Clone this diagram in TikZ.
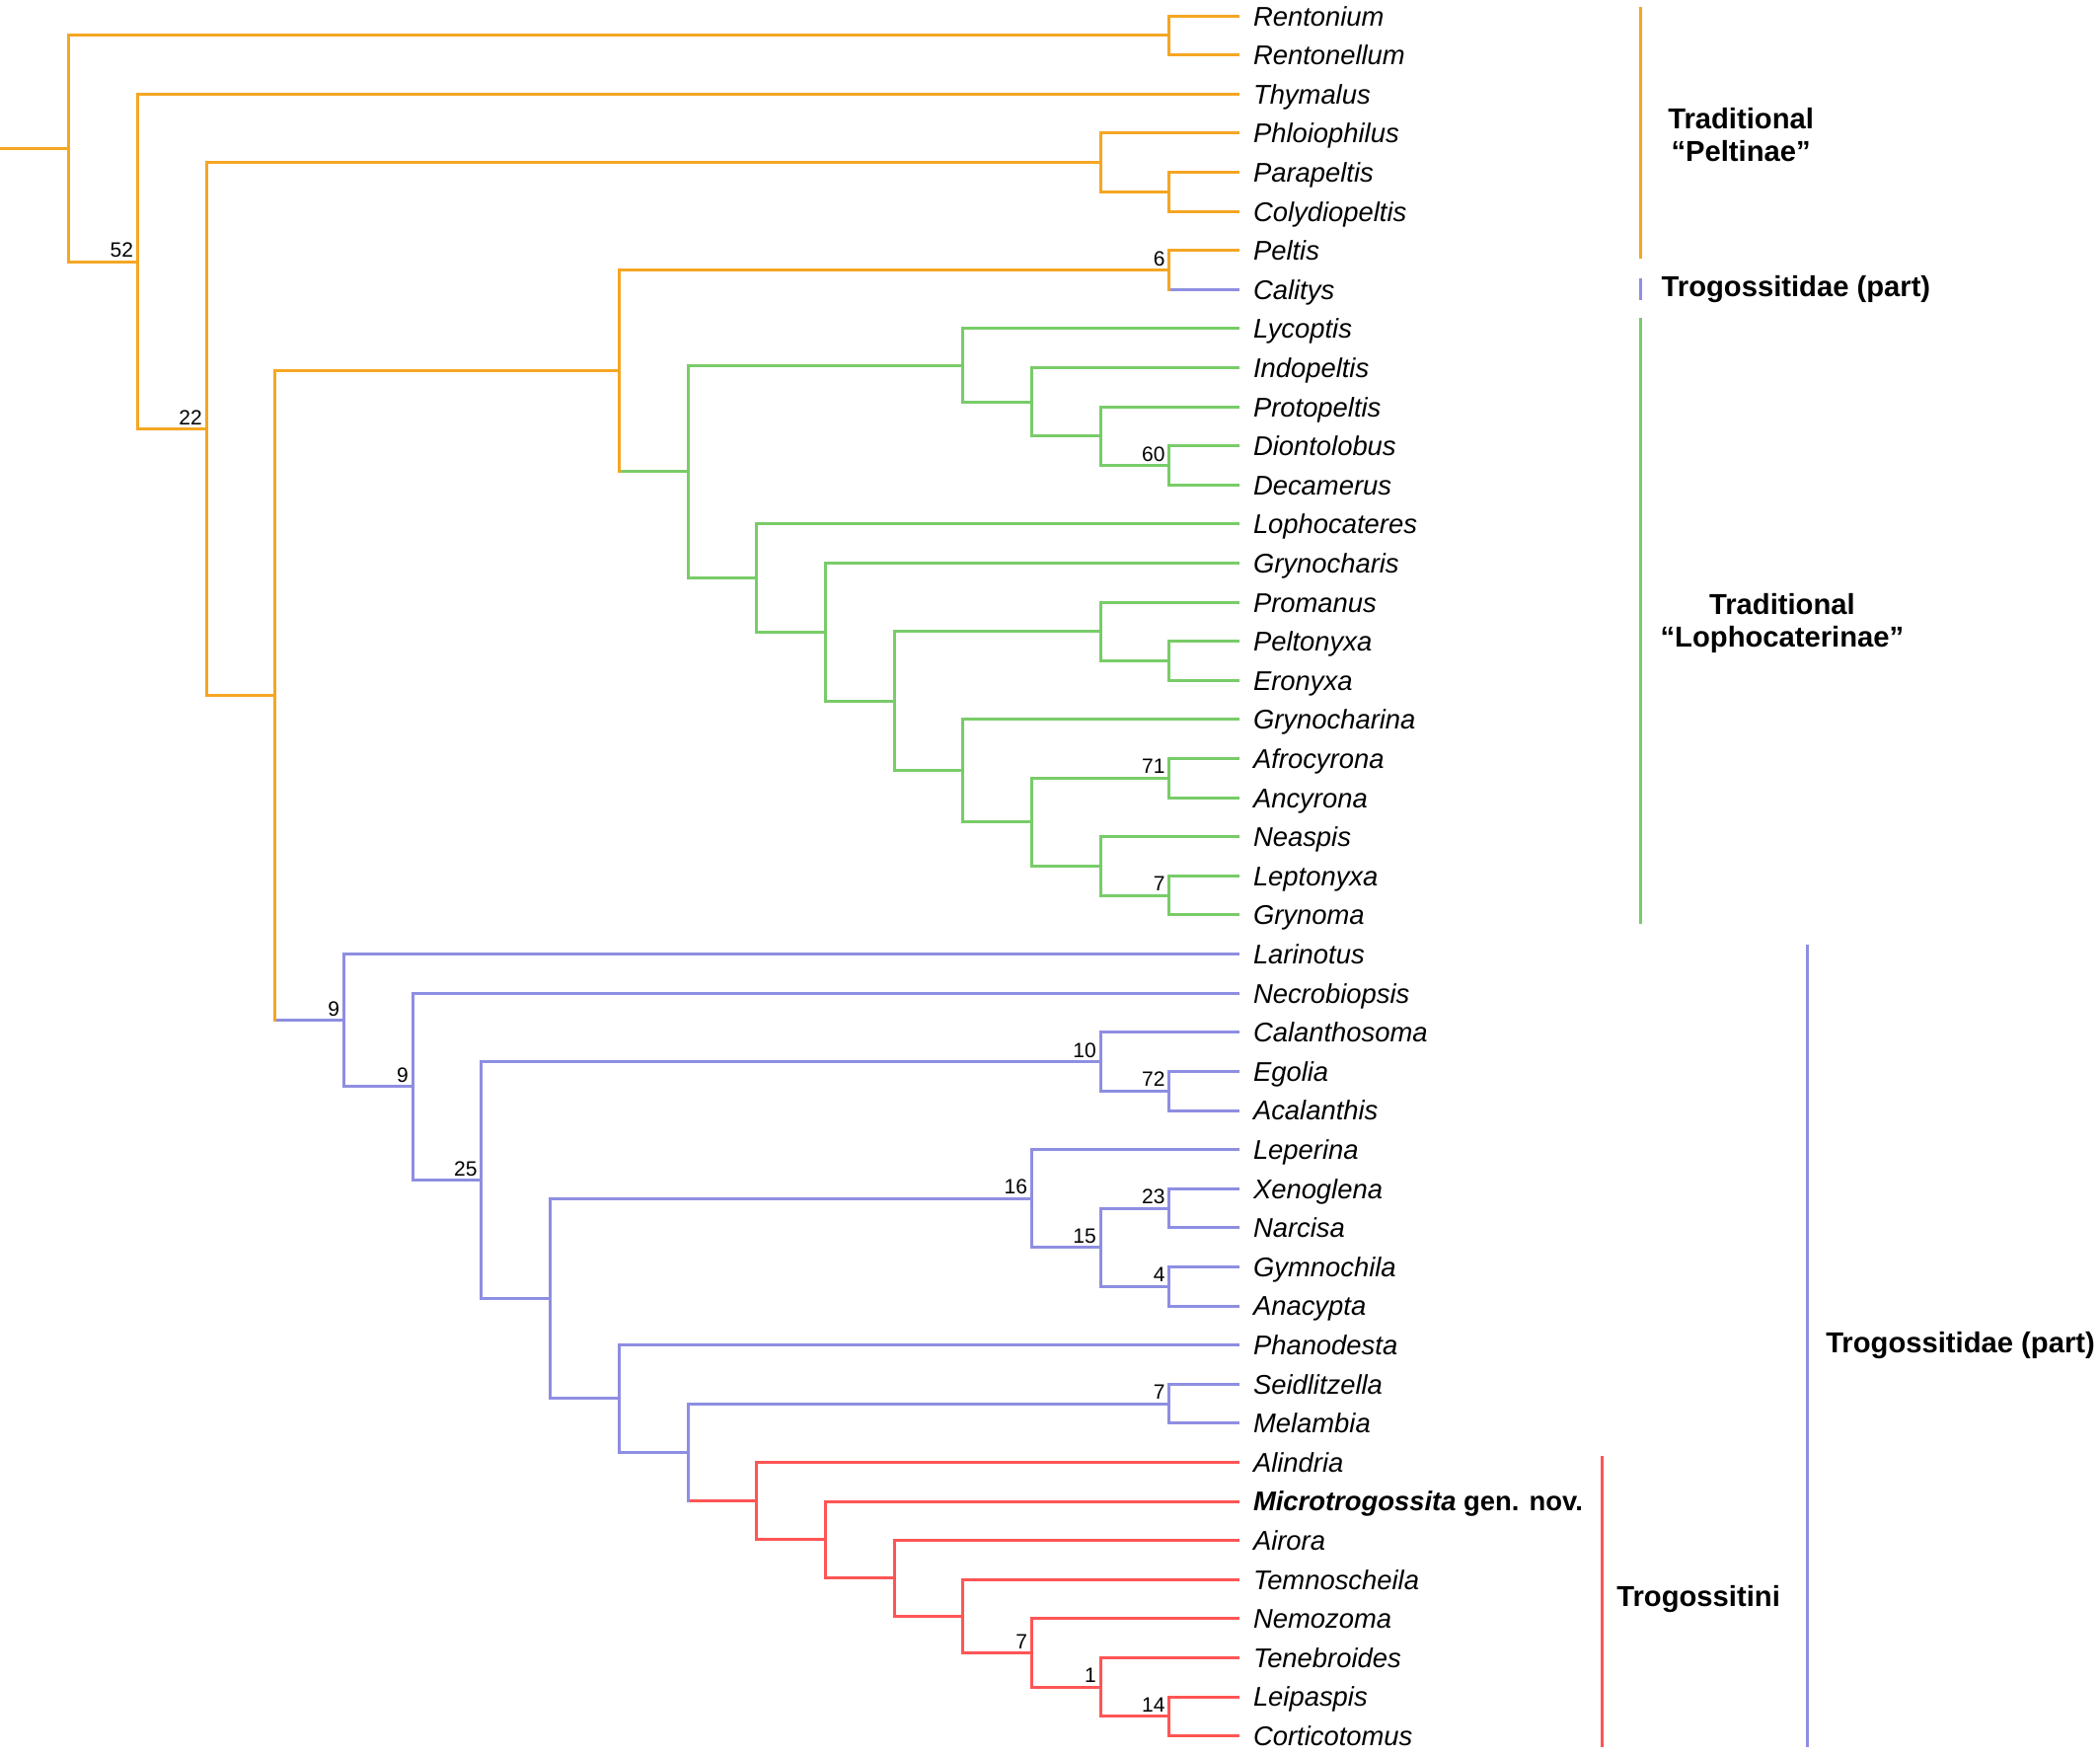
\documentclass[tikz,border=0pt]{standalone}
\usepackage{fontspec}
\setmainfont{Liberation Sans}

\definecolor{peltorange}{RGB}{245,166,35}
\definecolor{lophogreen}{RGB}{120,204,104}
\definecolor{trogblue}{RGB}{142,142,226}
\definecolor{trogred}{RGB}{255,85,85}

\tikzstyle{leaf}=[anchor=west,inner xsep=7.5pt,inner ysep=0pt,text height=9.9pt,text depth=0pt,font=\fontsize{13.7}{16}\selectfont\itshape]
\tikzstyle{support}=[anchor=south east,inner xsep=2pt,inner ysep=2pt,text depth=0pt,font=\fontsize{10.5}{12}\selectfont]
\tikzstyle{group}=[inner sep=0pt,align=center,font=\fontsize{14.6}{16.5}\selectfont\bfseries]
\tikzstyle{branch}=[line width=1.5pt,line cap=rect]
\tikzstyle{bar}=[line width=1.5pt]

\begin{document}
\begin{tikzpicture}[x=34.85pt,y=-19.8pt]
\useasboundingbox (0,-0.409) rectangle (30.531,44.515);

% leaves
\node[leaf] (leaf-0) at (18,0) {Rentonium};
\node[leaf] (leaf-1) at (18,1) {Rentonellum};
\node[leaf] (leaf-2) at (18,2) {Thymalus};
\node[leaf] (leaf-3) at (18,3) {Phloiophilus};
\node[leaf] (leaf-4) at (18,4) {Parapeltis};
\node[leaf] (leaf-5) at (18,5) {Colydiopeltis};
\node[leaf] (leaf-6) at (18,6) {Peltis};
\node[leaf] (leaf-7) at (18,7) {Calitys};
\node[leaf] (leaf-8) at (18,8) {Lycoptis};
\node[leaf] (leaf-9) at (18,9) {Indopeltis};
\node[leaf] (leaf-10) at (18,10) {Protopeltis};
\node[leaf] (leaf-11) at (18,11) {Diontolobus};
\node[leaf] (leaf-12) at (18,12) {Decamerus};
\node[leaf] (leaf-13) at (18,13) {Lophocateres};
\node[leaf] (leaf-14) at (18,14) {Grynocharis};
\node[leaf] (leaf-15) at (18,15) {Promanus};
\node[leaf] (leaf-16) at (18,16) {Peltonyxa};
\node[leaf] (leaf-17) at (18,17) {Eronyxa};
\node[leaf] (leaf-18) at (18,18) {Grynocharina};
\node[leaf] (leaf-19) at (18,19) {Afrocyrona};
\node[leaf] (leaf-20) at (18,20) {Ancyrona};
\node[leaf] (leaf-21) at (18,21) {Neaspis};
\node[leaf] (leaf-22) at (18,22) {Leptonyxa};
\node[leaf] (leaf-23) at (18,23) {Grynoma};
\node[leaf] (leaf-24) at (18,24) {Larinotus};
\node[leaf] (leaf-25) at (18,25) {Necrobiopsis};
\node[leaf] (leaf-26) at (18,26) {Calanthosoma};
\node[leaf] (leaf-27) at (18,27) {Egolia};
\node[leaf] (leaf-28) at (18,28) {Acalanthis};
\node[leaf] (leaf-29) at (18,29) {Leperina};
\node[leaf] (leaf-30) at (18,30) {Xenoglena};
\node[leaf] (leaf-31) at (18,31) {Narcisa};
\node[leaf] (leaf-32) at (18,32) {Gymnochila};
\node[leaf] (leaf-33) at (18,33) {Anacypta};
\node[leaf] (leaf-34) at (18,34) {Phanodesta};
\node[leaf] (leaf-35) at (18,35) {Seidlitzella};
\node[leaf] (leaf-36) at (18,36) {Melambia};
\node[leaf] (leaf-37) at (18,37) {Alindria};
\node[leaf] (leaf-38) at (18,38) {\textbf{Microtrogossita} {\upshape\bfseries gen. nov.}};
\node[leaf] (leaf-39) at (18,39) {Airora};
\node[leaf] (leaf-40) at (18,40) {Temnoscheila};
\node[leaf] (leaf-41) at (18,41) {Nemozoma};
\node[leaf] (leaf-42) at (18,42) {Tenebroides};
\node[leaf] (leaf-43) at (18,43) {Leipaspis};
\node[leaf] (leaf-44) at (18,44) {Corticotomus};

% junctions of the peltine grade
\coordinate (root-stem) at (0,3.3922);
\coordinate (root) at (1,3.3922);
\coordinate (rent-pair) at (17,0.5);
\coordinate (split-52) at (2,6.2844);
\coordinate (split-22) at (3,10.5688);
\coordinate (phloio-clade) at (16,3.75);
\coordinate (parap-pair) at (17,4.5);
\coordinate (core) at (4,17.3877);
\coordinate (peltis-lopho) at (9,9.0801);
\coordinate (peltis-pair) at (17,6.5);

% junctions of the lophocaterines
\coordinate (lopho) at (10,11.6602);
\coordinate (lycoptis-clade) at (14,8.9375);
\coordinate (indopeltis-clade) at (15,9.875);
\coordinate (protopeltis-clade) at (16,10.75);
\coordinate (diont-pair) at (17,11.5);
\coordinate (lophoc-clade) at (11,14.3828);
\coordinate (grynocharis-clade) at (12,15.7656);
\coordinate (promanus-grynocharina) at (13,17.5313);
\coordinate (promanus-clade) at (16,15.75);
\coordinate (peltonyxa-pair) at (17,16.5);
\coordinate (grynocharina-clade) at (14,19.3125);
\coordinate (afro-neaspis) at (15,20.625);
\coordinate (afro-pair) at (17,19.5);
\coordinate (neaspis-clade) at (16,21.75);
\coordinate (lepto-pair) at (17,22.5);

% junctions of the trogossitids
\coordinate (trog) at (5,25.6952);
\coordinate (necro-clade) at (6,27.3904);
\coordinate (split-25) at (7,29.7808);
\coordinate (calantho-clade) at (16,26.75);
\coordinate (egolia-pair) at (17,27.5);
\coordinate (leperina-phano) at (8,32.8115);
\coordinate (leperina-clade) at (15,30.25);
\coordinate (xeno-gymno) at (16,31.5);
\coordinate (xeno-pair) at (17,30.5);
\coordinate (gymno-pair) at (17,32.5);
\coordinate (phano-clade) at (9,35.373);
\coordinate (seid-trogin) at (10,36.7461);
\coordinate (seid-pair) at (17,35.5);

% junctions of Trogossitini
\coordinate (trogossitini) at (11,37.9922);
\coordinate (micro-clade) at (12,38.9844);
\coordinate (airora-clade) at (13,39.9688);
\coordinate (temno-clade) at (14,40.9375);
\coordinate (nemo-clade) at (15,41.875);
\coordinate (tene-clade) at (16,42.75);
\coordinate (leip-pair) at (17,43.5);

% branches, peltine grade
\draw[branch,trogblue] (core |- trog) -- (trog);
\draw[branch,lophogreen] (peltis-lopho |- lopho) -- (lopho);
\draw[branch,trogblue] (peltis-pair |- leaf-7.west) -- (leaf-7.west);
\begin{scope}[branch,peltorange]
\draw (root-stem) -- (root);
\draw (rent-pair) -| (root) |- (split-52);
\draw (leaf-0.west) -| (rent-pair) |- (leaf-1.west);
\draw (leaf-2.west) -| (split-52) |- (split-22);
\draw (phloio-clade) -| (split-22) |- (core);
\draw (leaf-3.west) -| (phloio-clade) |- (parap-pair);
\draw (leaf-4.west) -| (parap-pair) |- (leaf-5.west);
\draw (peltis-lopho) -| (core) -- (core |- trog);
\draw (peltis-pair) -| (peltis-lopho) -- (peltis-lopho |- lopho);
\draw (leaf-6.west) -| (peltis-pair) -- (peltis-pair |- leaf-7.west);
\end{scope}

% branches, lophocaterines
\begin{scope}[branch,lophogreen]
\draw (lycoptis-clade) -| (lopho) |- (lophoc-clade);
\draw (leaf-8.west) -| (lycoptis-clade) |- (indopeltis-clade);
\draw (leaf-9.west) -| (indopeltis-clade) |- (protopeltis-clade);
\draw (leaf-10.west) -| (protopeltis-clade) |- (diont-pair);
\draw (leaf-11.west) -| (diont-pair) |- (leaf-12.west);
\draw (leaf-13.west) -| (lophoc-clade) |- (grynocharis-clade);
\draw (leaf-14.west) -| (grynocharis-clade) |- (promanus-grynocharina);
\draw (promanus-clade) -| (promanus-grynocharina) |- (grynocharina-clade);
\draw (leaf-15.west) -| (promanus-clade) |- (peltonyxa-pair);
\draw (leaf-16.west) -| (peltonyxa-pair) |- (leaf-17.west);
\draw (leaf-18.west) -| (grynocharina-clade) |- (afro-neaspis);
\draw (afro-pair) -| (afro-neaspis) |- (neaspis-clade);
\draw (leaf-19.west) -| (afro-pair) |- (leaf-20.west);
\draw (leaf-21.west) -| (neaspis-clade) |- (lepto-pair);
\draw (leaf-22.west) -| (lepto-pair) |- (leaf-23.west);
\end{scope}

% branches, trogossitids
\draw[branch,trogred] (seid-trogin |- trogossitini) -- (trogossitini);
\begin{scope}[branch,trogblue]
\draw (leaf-24.west) -| (trog) |- (necro-clade);
\draw (leaf-25.west) -| (necro-clade) |- (split-25);
\draw (calantho-clade) -| (split-25) |- (leperina-phano);
\draw (leaf-26.west) -| (calantho-clade) |- (egolia-pair);
\draw (leaf-27.west) -| (egolia-pair) |- (leaf-28.west);
\draw (leperina-clade) -| (leperina-phano) |- (phano-clade);
\draw (leaf-29.west) -| (leperina-clade) |- (xeno-gymno);
\draw (xeno-pair) -| (xeno-gymno) |- (gymno-pair);
\draw (leaf-30.west) -| (xeno-pair) |- (leaf-31.west);
\draw (leaf-32.west) -| (gymno-pair) |- (leaf-33.west);
\draw (leaf-34.west) -| (phano-clade) |- (seid-trogin);
\draw (seid-pair) -| (seid-trogin) -- (seid-trogin |- trogossitini);
\draw (leaf-35.west) -| (seid-pair) |- (leaf-36.west);
\end{scope}

% branches, Trogossitini
\begin{scope}[branch,trogred]
\draw (leaf-37.west) -| (trogossitini) |- (micro-clade);
\draw (leaf-38.west) -| (micro-clade) |- (airora-clade);
\draw (leaf-39.west) -| (airora-clade) |- (temno-clade);
\draw (leaf-40.west) -| (temno-clade) |- (nemo-clade);
\draw (leaf-41.west) -| (nemo-clade) |- (tene-clade);
\draw (leaf-42.west) -| (tene-clade) |- (leip-pair);
\draw (leaf-43.west) -| (leip-pair) |- (leaf-44.west);
\end{scope}

% support values
\node[support] (sup-52) at (split-52) {52};
\node[support] (sup-22) at (split-22) {22};
\node[support] (sup-6) at (peltis-pair) {6};
\node[support] (sup-60) at (diont-pair) {60};
\node[support] (sup-71) at (afro-pair) {71};
\node[support] (sup-lepto) at (lepto-pair) {7};
\node[support] (sup-trog) at (trog) {9};
\node[support] (sup-necro) at (necro-clade) {9};
\node[support] (sup-25) at (split-25) {25};
\node[support] (sup-10) at (calantho-clade) {10};
\node[support] (sup-72) at (egolia-pair) {72};
\node[support] (sup-16) at (leperina-clade) {16};
\node[support] (sup-15) at (xeno-gymno) {15};
\node[support] (sup-23) at (xeno-pair) {23};
\node[support] (sup-4) at (gymno-pair) {4};
\node[support] (sup-seid) at (seid-pair) {7};
\node[support] (sup-nemo) at (nemo-clade) {7};
\node[support] (sup-1) at (tene-clade) {1};
\node[support] (sup-14) at (leip-pair) {14};

% group bars and names
\draw[bar,peltorange] (23.85,-0.23) -- (23.85,6.2);
\draw[bar,trogblue] (23.85,6.7) -- (23.85,7.27);
\draw[bar,lophogreen] (23.85,7.72) -- (23.85,23.23);
\draw[bar,trogblue] (26.28,23.76) -- (26.28,44.3);
\draw[bar,trogred] (23.29,36.84) -- (23.29,44.3);

\node[group] (peltinae-name) at (25.31,3.05) {Traditional\\“Peltinae”};
\node[group,anchor=west] (calitys-name) at (24.15,7) {Trogossitidae (part)};
\node[group] (lopho-name) at (25.91,15.54) {Traditional\\“Lophocaterinae”};
\node[group,anchor=west] (trog-name) at (26.54,34) {Trogossitidae (part)};
\node[group,anchor=west] (trogossitini-name) at (23.5,40.5) {Trogossitini};

\end{tikzpicture}
\end{document}
